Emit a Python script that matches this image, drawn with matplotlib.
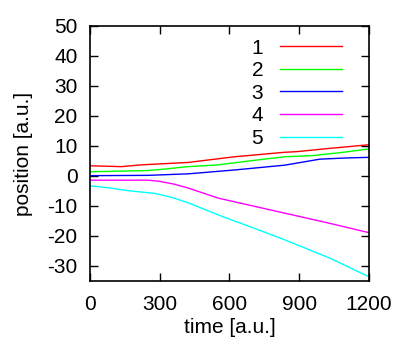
import matplotlib
matplotlib.use("Agg")
import matplotlib.pyplot as plt

# series (time, position)
t1 = [0, 135, 221, 421, 623, 838, 889, 1032, 1200]
p1 = [3.4, 3.1, 3.7, 4.5, 6.4, 7.9, 8.1, 9.2, 10.4]

t2 = [0, 249, 321, 421, 552, 695, 838, 960, 1080, 1200]
p2 = [1.4, 1.8, 2.3, 3.1, 3.7, 5.1, 6.4, 6.8, 7.8, 9.0]

t3 = [0, 249, 421, 623, 838, 989, 1104, 1200]
p3 = [0.1, 0.2, 0.7, 2.0, 3.6, 5.6, 6.0, 6.2]

t4 = [0, 250, 300, 360, 421, 552, 695, 838, 1032, 1200]
p4 = [-1.4, -1.4, -1.8, -2.7, -4.0, -7.4, -9.9, -12.4, -15.8, -18.9]

t5 = [0, 77, 163, 278, 350, 421, 552, 695, 838, 1032, 1200]
p5 = [-3.3, -3.9, -4.9, -5.8, -7.1, -8.9, -13.0, -17.1, -21.3, -27.4, -33.6]

series = [(t1, p1), (t2, p2), (t3, p3), (t4, p4), (t5, p5)]
labels = ["1", "2", "3", "4", "5"]
colors = ["#ff0000", "#00ff00", "#0000ff", "#ff00ff", "#00ffff"]

xticks = [0, 300, 600, 900, 1200]
yticks = [-30, -20, -10, 0, 10, 20, 30, 40, 50]

plt.rcParams["font.family"] = ["Liberation Sans", "DejaVu Sans"]
plt.rcParams["axes.unicode_minus"] = False
fs = 15

fig = plt.figure(figsize=(4.07, 3.41), dpi=100)
ax = fig.add_axes([0.2211, 0.176, 0.6855, 0.748])

for (t, p), lab, c in zip(series, labels, colors):
    ax.plot(t, p, color=c, lw=1.0, label=lab)

ax.set_xlim(0, 1200)
ax.set_ylim(-35, 50)
ax.set_xticks(xticks)
ax.set_yticks(yticks)
ax.tick_params(direction="in", length=6, width=1, top=True, right=True, labelsize=fs)
ax.tick_params(axis="y", pad=9)
ax.tick_params(axis="x", pad=10)
for s in ax.spines.values():
    s.set_linewidth(1.2)

ax.set_xlabel("time [a.u.]", fontsize=fs, labelpad=3)
ax.set_ylabel("position [a.u.]", fontsize=fs, labelpad=10)

ax.legend(loc="upper right", frameon=False, markerfirst=False, fontsize=fs,
          handlelength=3.0, handletextpad=0.8, labelspacing=0.17,
          bbox_to_anchor=(0.904, 0.95), borderpad=0, borderaxespad=0)

fig.savefig("out.png", dpi=100)
